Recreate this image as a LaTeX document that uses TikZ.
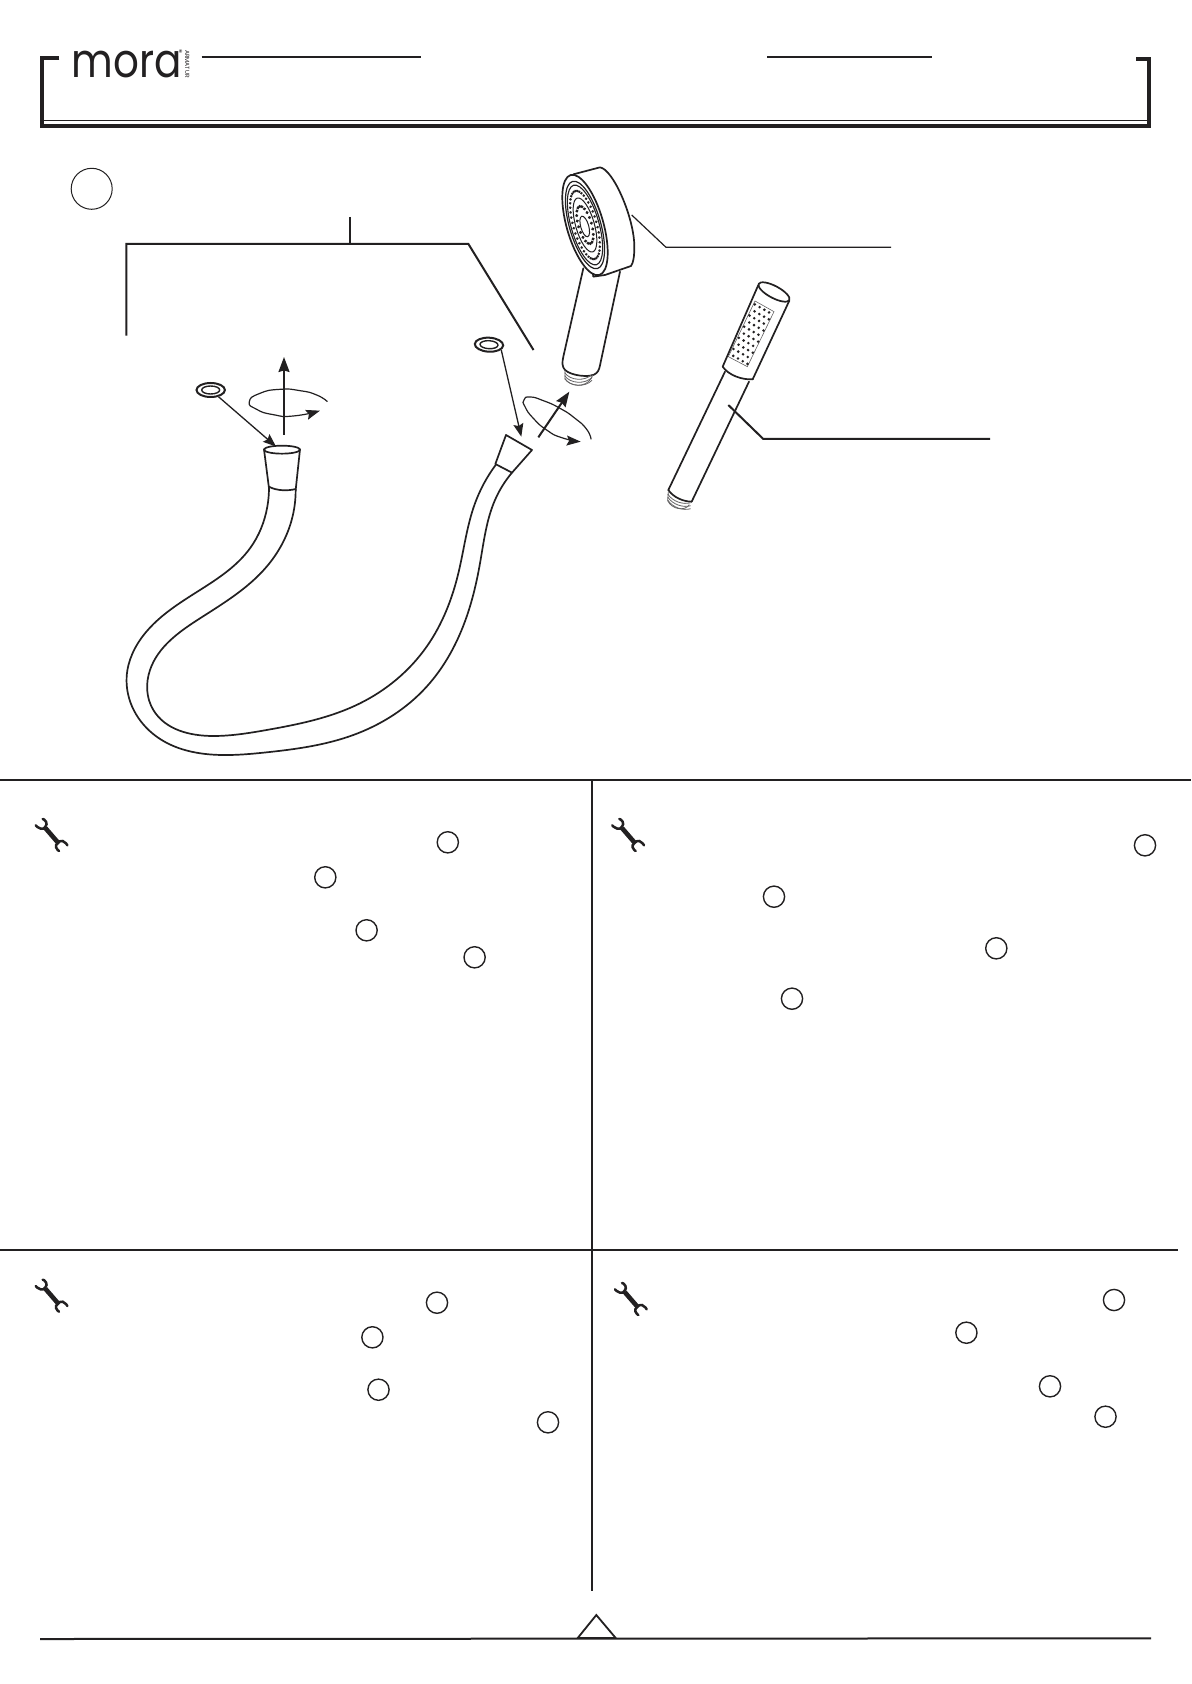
\documentclass[tikz,border=0pt]{standalone}
\usepackage{fontspec}
\usepackage{graphicx}
\usetikzlibrary{arrows.meta,shapes.geometric,hobby}
\newfontfamily\logofont{Poppins}
\definecolor{ink}{HTML}{222021}
\tikzset{
  ln/.style={draw=ink,line width=1pt,line join=miter},
  thinln/.style={draw=ink,line width=.5pt},
  part/.style={draw=ink,line width=.85pt,line cap=round,line join=round},
  hair/.style={draw=ink!70,line width=.3pt},
  arr/.style={draw=ink,line width=.65pt,-{Stealth[length=6.5pt,width=5pt,inset=1pt]}},
  bigarr/.style={draw=ink,line width=1pt,-{Stealth[length=7.5pt,width=5.5pt,inset=.8pt]}},
  rotarr/.style={draw=ink,line width=.6pt,-{Stealth[length=7pt,width=5pt,inset=1.2pt]}},
  mark circle/.style={circle,draw=ink,line width=.7pt,minimum size=10.6pt,inner sep=0pt},
  ring out/.style={ellipse,draw=ink,line width=1pt,minimum width=14.2pt,minimum height=7pt,inner sep=0pt},
  ring in/.style={ellipse,draw=ink,line width=.7pt,minimum width=9pt,minimum height=4pt,inner sep=0pt},
  wrenchicon/.pic={
    \begin{scope}[scale=1/3,shift={(-95,-105)}]
      \draw[draw=ink,line width=2.3pt,line cap=butt] (76,84)--(114,128);
      \draw[draw=ink,line width=1.25pt,line cap=round] plot[smooth,tension=1] coordinates {(68,57)(78,65)(76,80)(62,86)(47,76)};
      \draw[draw=ink,line width=1.25pt,line cap=round] plot[smooth,tension=1] coordinates {(142,136)(128,123)(113,130)(108,142)(117,153)};
    \end{scope}
  }
}
\begin{document}
\begin{tikzpicture}[x=.5pt,y=-.5pt]
\useasboundingbox (0,0) rectangle (1191,1684);
\fill[white] (0,0) rectangle (1191,1684);

% header
\draw[draw=ink,line width=2pt,miter limit=10] (59.3,58)--(42,58)--(42,126)--(1149,126)--(1149,59)--(1136,59);
\draw[thinln] (44,120.3)--(1147,120.3);
\draw[ln] (201.7,56.7)--(421,56.7);
\draw[ln] (767,57)--(932,57);
\node[inner sep=0pt,text=ink] (logo) at (126.5,64.5) {\resizebox{55pt}{13.2pt}{\logofont mora}};
\node[inner sep=0pt,text=ink,font=\logofont\fontsize{3}{3}\selectfont,rotate=-90] (armatur) at (187.3,64) {ARMATUR};
\node[inner sep=0pt,text=ink,font=\logofont\fontsize{4}{4}\selectfont] (reg) at (180.7,52.3) {®};

% step circle
\node[circle,draw=ink,line width=.5pt,minimum size=20.5pt,inner sep=0pt] (stepmark) at (91.7,188.8) {};

% bracket callout
\coordinate (bTop) at (349.8,217);
\coordinate (bMid) at (349.8,244);
\coordinate (bL) at (126.3,244);
\coordinate (bLd) at (126.3,335.7);
\coordinate (bR) at (468.4,244);
\coordinate (bRd) at (533.5,350);
\draw[ln] (bTop)--(bMid);
\draw[ln] (bLd)--(bL)--(bR)--(bRd);

% leaders
\coordinate (h1a) at (631.7,215); \coordinate (h1b) at (666,247.3); \coordinate (h1c) at (891,247.3);
\draw[draw=ink,line width=.6pt] (h1a)--(h1b)--(h1c);
\coordinate (h2a) at (728.3,405); \coordinate (h2b) at (763.3,439); \coordinate (h2c) at (990,439);
\draw[ln] (h2a)--(h2b)--(h2c);

% hose
\begin{scope}[shift={(100,340)},scale=1/3]
  \draw[part,use Hobby shortcut] (1187,375)..(1125,490)..(1075,700)..(980,920)..(780,1090)..(500,1170)..(340,1188)..(160,1110)..(150,990)..(300,835)..(500,680)..(575,540)..(587,450);
  \draw[part,use Hobby shortcut] (1236,398)..(1185,480)..(1140,670)..(1100,830)..(980,1040)..(760,1185)..(500,1237)..(390,1245)..(170,1190)..(80,1010)..(135,880)..(300,750)..(450,625)..(502,500)..(507,445);
  % left connector
  \draw[part] (492,328)--(507,445);
  \draw[part] (600,328)--(587,450);
  \draw[part] (507,440) .. controls (530,453) and (565,453) .. (587,447);
  \draw[part,fill=white] (546,329) ellipse [x radius=54,y radius=12];
  % right connector
  \draw[part] (1186,372)--(1218,285)--(1296,330)--(1236,398)--cycle;
  % left rotation symbol
  \draw[rotarr] plot[smooth,tension=1] coordinates {(682,185)(650,165)(600,152)(540,148)(480,160)(448,185)(470,208)(520,224)(580,228)(660,212)};
\end{scope}

% o-rings
\node[ring out] (ringA) at (210.7,390) {};
\node[ring in] (ringAin) at (210.7,390) {};
\node[ring out,rotate=-3] (ringB) at (489,344.7) {};
\node[ring in,rotate=-3] (ringBin) at (489,344.7) {};
\coordinate (hoseL) at (276,446.5);
\coordinate (hoseR) at (521.3,436.7);
\draw[arr] (ringA)--(hoseL);
\draw[arr] (ringB.-20)--(hoseR);

% left axis arrow
\coordinate (axA) at (284,435);
\coordinate (axB) at (284,357);
\draw[bigarr] (axA)--(axB);

% hand shower 1 and right rotation symbol
\begin{scope}[shift={(450,140)},scale=1/3]
  % rotation
  \draw[rotarr] plot[smooth,tension=1] coordinates {(423,898)(410,868)(375,835)(330,805)(280,782)(240,771)(222,780)(225,800)(250,835)(290,870)(335,893)(392,905)};
  \coordinate (axC) at (265,892); \coordinate (axD) at (358,755);
  \draw[bigarr] (axC)--(axD);
  % handle
  \draw[part] (400,385)--(340,650) .. controls (336,668) and (336,680) .. (345,690) .. controls (365,708) and (415,712) .. (432,704) .. controls (444,698) and (447,690) .. (450,676)--(510,395);
  % threads
  \draw[hair,line width=.4pt] (345,692)--(345,716) .. controls (360,740) and (405,745) .. (424,715)--(428,705);
  \foreach \d in {0,9,18}{\draw[hair,line width=.4pt] (344,698+\d) .. controls (360,722+\d) and (405,725+\d) .. (426,703+\d);}
  % head back
  \draw[part,fill=white] (370,103)--(450,82) .. controls (490,88) and (553,235) .. (553,320) .. controls (553,350) and (550,368) .. (543,378)--(465,405)--(430,410)--(405,255)--cycle;
  % face
  \begin{scope}[shift={(405,255)},rotate=16]
    \draw[part,fill=white] (0,0) ellipse [x radius=55,y radius=156];
    \draw[draw=ink,line width=.6pt] (0,0) ellipse [x radius=47,y radius=136];
    \draw[draw=ink,line width=.55pt] (0,0) ellipse [x radius=42,y radius=124];
    \draw[draw=ink,line width=.5pt] (0,0) ellipse [x radius=28,y radius=84];
    \draw[draw=ink,line width=.5pt] (-2,4) ellipse [x radius=12,y radius=32];
    \foreach \t in {0,9,...,351}{\fill[ink] ({35*cos(\t)},{106*sin(\t)}) circle (4.3);}
    \foreach \t in {0,18,...,342}{\fill[ink] ({20*cos(\t)},{58*sin(\t)}) circle (5);}
  \end{scope}
  % hand shower 2
  \draw[part] (925,435)--(818,680);
  \draw[part] (1018,482)--(908,718);
  \draw[part] (818,680) .. controls (835,705) and (875,720) .. (908,718);
  \draw[part,rotate around={-28:(972,456)}] (972,456) ellipse [x radius=52,y radius=18];
  \draw[part] (825,695)--(655,1050);
  \draw[part] (897,725)--(725,1085);
  \draw[part] (655,1050) .. controls (670,1072) and (700,1085) .. (725,1085);
  \draw[hair,line width=.4pt] (655,1056)--(653,1082) .. controls (665,1108) and (705,1115) .. (718,1094);
  \foreach \d in {0,9,18}{\draw[hair,line width=.4pt] (653,1062+\d) .. controls (668,1085+\d) and (700,1095+\d) .. (722,1088+\d);}
  \draw[hair] (915,483)--(972,515)--(892,680)--(835,650)--cycle;
  \foreach \i in {0,...,9}{
    \foreach \j in {0,...,3}{
      \pgfmathsetmacro{\u}{(\i+.5)/10}
      \pgfmathsetmacro{\v}{(\j+.25+.5*mod(\i,2))/4}
      \fill[ink] ({915+\u*(835-915)+\v*(972-915)},{483+\u*(650-483)+\v*(515-483)}) circle (4.3);
    }
  }
\end{scope}

% dividers
\draw[ln] (0,780)--(1191,780);
\draw[ln] (0,1250)--(1177.6,1250);
\draw[draw=ink,line width=1.2pt] (592,780)--(592,1590.7);

% wrenches
\pic (w1) at (51.7,835) {wrenchicon};
\pic (w2) at (628.3,835) {wrenchicon};
\pic (w3) at (51.7,1295.7) {wrenchicon};
\pic (w4) at (631,1299) {wrenchicon};

% marks panel 1
\node[mark circle] (a1) at (447.8,842.3) {};
\node[mark circle] (a2) at (325.3,877.3) {};
\node[mark circle] (a3) at (366.6,930.3) {};
\node[mark circle] (a4) at (474.6,957.3) {};
% marks panel 2
\node[mark circle] (b1) at (1145,845.3) {};
\node[mark circle] (b2) at (774,896.7) {};
\node[mark circle] (b3) at (996.3,948.3) {};
\node[mark circle] (b4) at (792,998.7) {};
% marks panel 3
\node[mark circle] (c1) at (437,1302.7) {};
\node[mark circle] (c2) at (372.4,1337.3) {};
\node[mark circle] (c3) at (378.5,1389.7) {};
\node[mark circle] (c4) at (548,1422.3) {};
% marks panel 4
\node[mark circle] (d1) at (1114,1300) {};
\node[mark circle] (d2) at (966.4,1332.7) {};
\node[mark circle] (d3) at (1050,1386.3) {};
\node[mark circle] (d4) at (1105.5,1416.7) {};

% footer
\draw[ln] (40,1639)--(1151,1638.3);
\draw[draw=ink,line width=.9pt,line join=miter] (577.7,1638)--(596.3,1615)--(615.7,1638)--cycle;
\end{tikzpicture}
\end{document}
